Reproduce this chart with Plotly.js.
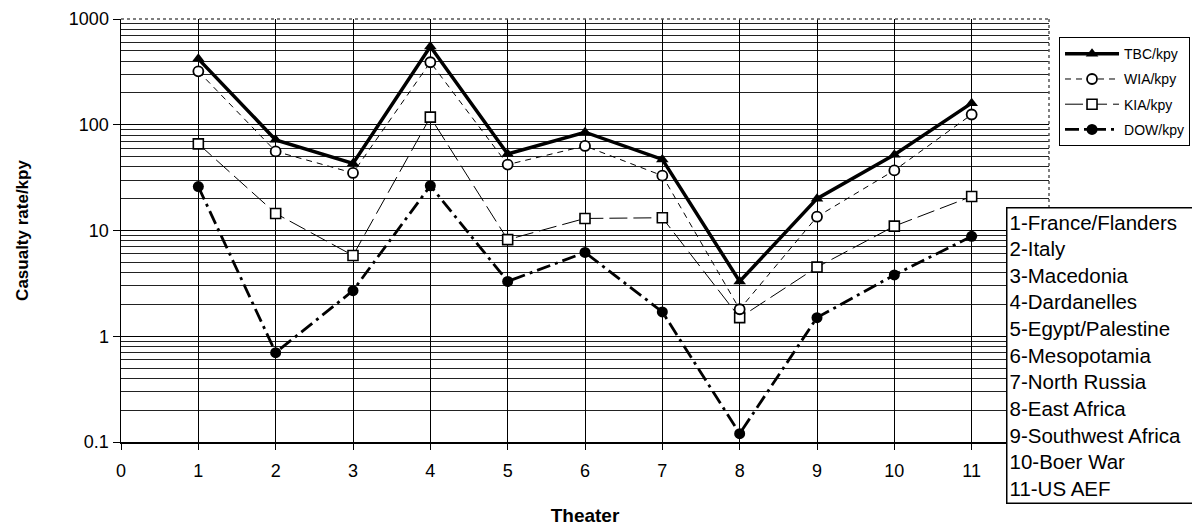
<!DOCTYPE html>
<html>
<head>
<meta charset="utf-8">
<script src="https://cdn.plot.ly/plotly-3.0.1.min.js"></script>
<style>
  html, body { margin: 0; padding: 0; background: #fff; }
  #chart { width: 1192px; height: 529px; }
</style>
</head>
<body>
<div id="chart"></div>
<script>
// ---- data ----
const theaters = [1, 2, 3, 4, 5, 6, 7, 8, 9, 10, 11];
const theaterNames = [
  "1-France/Flanders", "2-Italy", "3-Macedonia", "4-Dardanelles",
  "5-Egypt/Palestine", "6-Mesopotamia", "7-North Russia", "8-East Africa",
  "9-Southwest Africa", "10-Boer War", "11-US AEF"
];
const tbc = [420, 72, 43, 550, 53, 85, 47, 3.3, 20, 52, 160];
const wia = [320, 56, 35, 390, 42, 63, 33, 1.8, 13.5, 37, 125];
const kia = [66, 14.5, 5.8, 118, 8.2, 13, 13.2, 1.5, 4.5, 11, 21];
const dow = [26, 0.7, 2.7, 26.5, 3.3, 6.2, 1.7, 0.12, 1.5, 3.8, 8.8];
const seriesNames = ["TBC/kpy", "WIA/kpy", "KIA/kpy", "DOW/kpy"];
const xTickVals = [0, 1, 2, 3, 4, 5, 6, 7, 8, 9, 10, 11];
const yTickVals = [0.1, 1, 10, 100, 1000];
const yTickText = ["0.1", "1", "10", "100", "1000"];

// minor log grid values (2..9 within each decade)
const minorVals = [];
[0.1, 1, 10, 100].forEach(d => { for (let k = 2; k <= 9; k++) minorVals.push(+(d * k).toPrecision(3)); });

const FONT = "Arial, 'Liberation Sans', sans-serif";

const traces = [
  {
    x: theaters, y: dow, name: seriesNames[3], legendgroup: "d", legendrank: 4, mode: "lines+markers",
    line: { color: "#000", width: 2.8, dash: "14px,5px,3px,5px" },
    marker: { symbol: "circle", size: 11, color: "#000" }
  },
  {
    x: theaters, y: kia, name: seriesNames[2], legendgroup: "c", legendrank: 3, mode: "lines+markers",
    line: { color: "#000", width: 1, dash: "18px,6px" },
    marker: { symbol: "square", size: 10, color: "#fff", line: { color: "#000", width: 1.6 } }
  },
  {
    x: theaters, y: wia, name: seriesNames[1], legendgroup: "b", legendrank: 2, mode: "lines+markers",
    line: { color: "#000", width: 1, dash: "6px,5px" },
    marker: { symbol: "circle", size: 10, color: "#fff", line: { color: "#000", width: 1.8 } }
  },
  {
    x: theaters, y: tbc, name: seriesNames[0], legendgroup: "a", legendrank: 1, mode: "lines+markers",
    line: { color: "#000", width: 3.5 },
    marker: { symbol: "triangle-up", size: 11, color: "#000" }
  }
];

const layout = {
  width: 1192, height: 529,
  paper_bgcolor: "#fff", plot_bgcolor: "#fff",
  margin: { l: 121, r: 143, t: 19, b: 87, autoexpand: false },
  font: { family: FONT, color: "#000", size: 18 },
  showlegend: true,
  legend: {
    x: 1.0108, y: 0.957, xanchor: "left", yanchor: "top",
    bordercolor: "#000", borderwidth: 1, bgcolor: "#fff",
    font: { family: FONT, size: 14, color: "#000" },
    traceorder: "grouped", tracegroupgap: 4, itemwidth: 54
  },
  xaxis: {
    range: [0, 12], tickmode: "array", tickvals: xTickVals,
    showgrid: true, gridcolor: "#000", gridwidth: 1,
    showline: true, linecolor: "#000", linewidth: 1.5,
    ticks: "outside", ticklen: 6, tickcolor: "#000",
    tickfont: { family: FONT, size: 18 }, ticklabelstandoff: 6,
    zeroline: false,
    title: { text: "<b>Theater</b>", font: { family: FONT, size: 19 }, standoff: 28 }
  },
  yaxis: {
    type: "log", range: [-1, 3], tickmode: "array", tickvals: yTickVals, ticktext: yTickText,
    showgrid: true, gridcolor: "#000", gridwidth: 1,
    showline: true, linecolor: "#000", linewidth: 1.5,
    ticks: "outside", ticklen: 7, tickcolor: "#000",
    tickfont: { family: FONT, size: 18 },
    minor: { tickmode: "array", tickvals: minorVals, showgrid: true, gridcolor: "#222", gridwidth: 1, ticks: "" },
    title: { text: "<b>Casualty rate/kpy</b>", font: { family: FONT, size: 17 }, standoff: 36 }
  },
  shapes: [
    { type: "line", xref: "paper", yref: "paper", x0: 0, x1: 1, y0: 1, y1: 1,
      line: { color: "#555", width: 1.5, dash: "dot" } },
    { type: "line", xref: "paper", yref: "paper", x0: 1, x1: 1, y0: 0, y1: 1,
      line: { color: "#555", width: 1.5, dash: "dot" } }
  ],
  annotations: [
    {
      xref: "paper", yref: "paper", x: 0.9537, y: 0.5556, xanchor: "left", yanchor: "top",
      text: theaterNames.join("<br>"), showarrow: false, align: "left",
      font: { family: FONT, size: 20.5, color: "#000" },
      bordercolor: "#000", borderwidth: 1.5, borderpad: 2, bgcolor: "#fff",
      width: 210
    }
  ]
};

Plotly.newPlot("chart", traces, layout, { displayModeBar: false, staticPlot: true });
</script>
</body>
</html>
